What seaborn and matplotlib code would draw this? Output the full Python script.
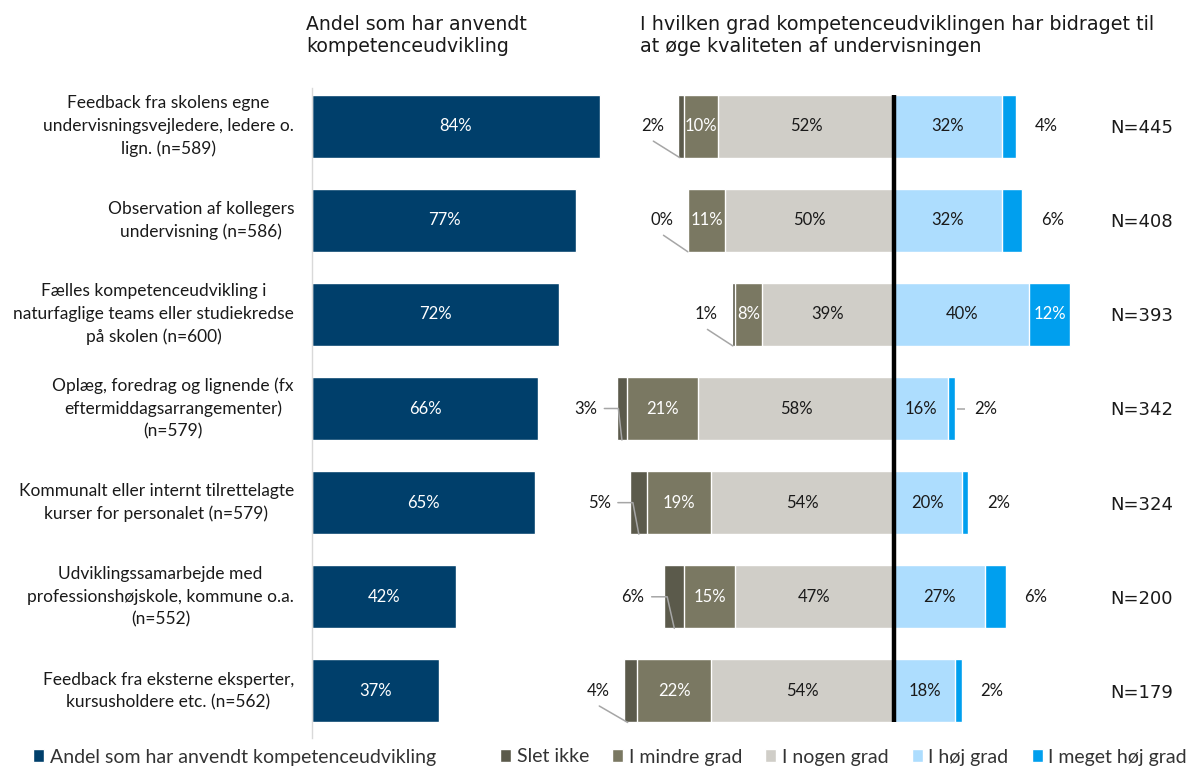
import matplotlib
matplotlib.use("Agg")
import matplotlib.pyplot as plt
from matplotlib.patches import Patch
from matplotlib.transforms import blended_transform_factory
import pandas as pd
import seaborn as sns

# ---- data ---------------------------------------------------------------
categories = [
    "Feedback fra skolens egne\nundervisningsvejledere, ledere o.\nlign. (n=589)",
    "Observation af kollegers\nundervisning (n=586)",
    "Fælles kompetenceudvikling i\nnaturfaglige teams eller studiekredse\npå skolen (n=600)",
    "Oplæg, foredrag og lignende (fx\neftermiddagsarrangementer)\n(n=579)",
    "Kommunalt eller internt tilrettelagte\nkurser for personalet (n=579)",
    "Udviklingssamarbejde med\nprofessionshøjskole, kommune o.a.\n(n=552)",
    "Feedback fra eksterne eksperter,\nkursusholdere etc. (n=562)",
]
andel = [84, 77, 72, 66, 65, 42, 37]
slet_ikke = [2, 0, 1, 3, 5, 6, 4]
mindre_grad = [10, 11, 8, 21, 19, 15, 22]
nogen_grad = [52, 50, 39, 58, 54, 47, 54]
hoej_grad = [32, 32, 40, 16, 20, 27, 18]
meget_hoej_grad = [4, 6, 12, 2, 2, 6, 2]
n_labels = ["N=445", "N=408", "N=393", "N=342", "N=324", "N=200", "N=179"]
series_names = ["Slet ikke", "I mindre grad", "I nogen grad", "I høj grad", "I meget høj grad"]
andel_name = "Andel som har anvendt kompetenceudvikling"
left_title = "Andel som har anvendt\nkompetenceudvikling"
right_title = "I hvilken grad kompetenceudviklingen har bidraget til\nat øge kvaliteten af undervisningen"

# ---- style --------------------------------------------------------------
NAVY = "#003F6B"
SERIES_COLORS = ["#5B5A4B", "#7A7862", "#D0CEC8", "#ADDDFE", "#009FEE"]
LEADER = "#A6A6A6"
TEXT = "#1A1A1A"
LABEL_FONT = ["Lato", "DejaVu Sans"]
HEAD_FONT = ["DejaVu Sans"]

# leader-line shape for the "Slet ikke" labels and the outside "I meget høj grad" labels
slet_leader = ["diag", "diag", "diag", "elbow", "elbow", "elbow", "diag"]
meget_leader = [False, False, False, True, False, False, False]

sns.set_style("white")
plt.rcParams["font.family"] = LABEL_FONT

W, H = 1191, 767
fig = plt.figure(figsize=(W / 100, H / 100), dpi=100)

ax_bottom = (H - 738) / H
ax_height = 659 / H
BAR_H = 0.67

# ---- left panel: share who used the activity ----------------------------
LPX = 3.43  # pixels per percent
ax_l = fig.add_axes([312 / W, ax_bottom, 300 / W, ax_height])
ax_l.patch.set_alpha(0)

df = pd.DataFrame({
    "kategori": categories,
    "andel": andel,
    "slet": slet_ikke,
    "mindre": mindre_grad,
    "nogen": nogen_grad,
    "hoej": hoej_grad,
    "meget": meget_hoej_grad,
})

sns.barplot(data=df, x="andel", y="kategori", order=categories, color=NAVY,
            saturation=1, width=BAR_H, errorbar=None, ax=ax_l)
ax_l.set_xlim(0, 300 / LPX)
ax_l.set_ylim(6.5, -0.5)
ax_l.set_xlabel("")
ax_l.set_ylabel("")
ax_l.set_xticks([])
ax_l.tick_params(left=False, labelleft=False)
for s in ["top", "right", "bottom"]:
    ax_l.spines[s].set_visible(False)
ax_l.spines["left"].set_color("#D9D9D9")
ax_l.spines["left"].set_linewidth(1.0)
ax_l.spines["left"].set_bounds(-0.4, 6.5)

for i, v in enumerate(andel):
    ax_l.text(v / 2, i, f"{v}%", ha="center", va="center", color="white",
              fontsize=12, family=LABEL_FONT)

cat_tr = blended_transform_factory(fig.transFigure, ax_l.transData)
for i, c in enumerate(categories):
    ax_l.text(294 / W, i, c, transform=cat_tr, ha="right", va="center",
              multialignment="center", fontsize=12.5, family=LABEL_FONT,
              color=TEXT, linespacing=1.5)

# ---- right panel: diverging stacked bars --------------------------------
RPX = 3.38
CENTER = 894.0
ax_r = fig.add_axes([540 / W, ax_bottom, (W - 540) / W, ax_height])
ax_r.patch.set_alpha(0)

df["neg_slet"] = -(df["slet"] + df["mindre"] + df["nogen"])
df["neg_mindre"] = -(df["mindre"] + df["nogen"])
df["neg_nogen"] = -df["nogen"]
df["pos_meget"] = df["hoej"] + df["meget"]
df["pos_hoej"] = df["hoej"]

layers = [("neg_slet", 0), ("neg_mindre", 1), ("neg_nogen", 2),
          ("pos_meget", 4), ("pos_hoej", 3)]
for col, ci in layers:
    sns.barplot(data=df, x=col, y="kategori", order=categories,
                color=SERIES_COLORS[ci], saturation=1, width=BAR_H,
                errorbar=None, ax=ax_r)

ax_r.set_xlim((540 - CENTER) / RPX, (W - CENTER) / RPX)
ax_r.set_ylim(6.5, -0.5)
ax_r.set_xlabel("")
ax_r.set_ylabel("")
ax_r.set_xticks([])
ax_r.tick_params(left=False, labelleft=False)
for s in ax_r.spines.values():
    s.set_visible(False)

ax_r.vlines(0, -BAR_H / 2, 6 + BAR_H / 2, color="black", lw=3.2, zorder=5)

lab = dict(ha="center", va="center", fontsize=12, family=LABEL_FONT)
for i in range(len(categories)):
    s, m, n, h, mh = (slet_ikke[i], mindre_grad[i], nogen_grad[i],
                      hoej_grad[i], meget_hoej_grad[i])
    ax_r.text(-(n + m / 2), i, f"{m}%", color="white", **lab)
    ax_r.text(-n / 2, i, f"{n}%", color=TEXT, **lab)
    ax_r.text(h / 2, i, f"{h}%", color=TEXT, **lab)

    # "I meget høj grad": inside when wide enough, otherwise beside the bar
    if mh >= 10:
        ax_r.text(h + mh / 2, i, f"{mh}%", color="white", **lab)
    else:
        rx = h + mh + 9
        ax_r.text(rx, i, f"{mh}%", color=TEXT, **lab)
        if meget_leader[i]:
            ax_r.plot([h + mh + 0.6, rx - 6], [i, i], color=LEADER, lw=1.1,
                      solid_capstyle="butt")

    # "Slet ikke": always beside the bar with a leader line
    left_end = -(s + m + n)
    if slet_leader[i] == "elbow":
        lx = left_end - 9.2
        ax_r.text(lx, i, f"{s}%", color=TEXT, **lab)
        ax_r.plot([lx + 5.5, left_end + 0.15 * s, left_end + 0.5 * s],
                  [i, i, i + BAR_H / 2], color=LEADER, lw=1.1, zorder=4)
    else:
        lx = left_end - 7.5
        ax_r.text(lx, i, f"{s}%", color=TEXT, **lab)
        ax_r.plot([lx + 0.3, left_end + 0.3 * s],
                  [i + 0.16, i + BAR_H / 2], color=LEADER, lw=1.1, zorder=4)

    ax_r.text((1142 - CENTER) / RPX, i + 0.02, n_labels[i], ha="center",
              va="center", fontsize=13, family=HEAD_FONT, color=TEXT)

# ---- headings -----------------------------------------------------------
fig.text(306 / W, 1 - 15 / H, left_title, ha="left", va="top", fontsize=13.6,
         family=HEAD_FONT, color=TEXT, linespacing=1.2)
fig.text(640 / W, 1 - 15 / H, right_title, ha="left", va="top", fontsize=13.8,
         family=HEAD_FONT, color=TEXT, linespacing=1.2)

# ---- legends ------------------------------------------------------------
leg_kw = dict(loc="center left", frameon=False, prop=dict(family=LABEL_FONT, size=14),
              handlelength=0.55, handleheight=0.6, handletextpad=0.3,
              borderpad=0, borderaxespad=0, labelcolor="#333333")
fig.legend([Patch(facecolor=NAVY)], [andel_name],
           bbox_to_anchor=(33 / W, 1 - 757 / H), **leg_kw)
fig.legend([Patch(facecolor=c) for c in SERIES_COLORS], series_names, ncol=5,
           columnspacing=1.2, bbox_to_anchor=(500 / W, 1 - 757 / H), **leg_kw)

fig.savefig("out.png", dpi=100)
